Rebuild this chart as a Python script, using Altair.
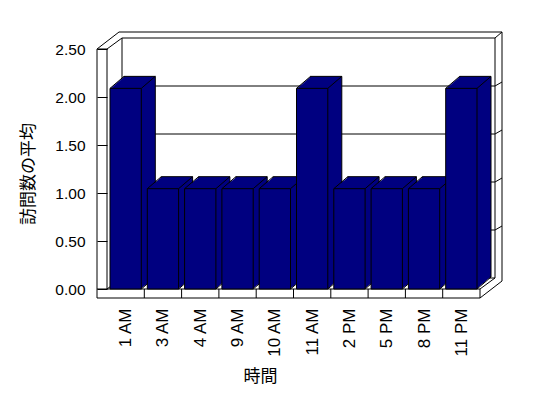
import json

import altair as alt
import pandas as pd

# ---- data -------------------------------------------------------------
hours = ["1 AM", "3 AM", "4 AM", "9 AM", "10 AM", "11 AM", "2 PM", "5 PM", "8 PM", "11 PM"]
avg_visits = [2.09, 1.045, 1.045, 1.045, 1.045, 2.09, 1.045, 1.045, 1.045, 2.09]
y_ticks = [0.0, 0.5, 1.0, 1.5, 2.0, 2.5]

# ---- style ------------------------------------------------------------
NAVY = "#000080"
INK = "#000000"
LABEL_FONT = "Liberation Sans"
CJK_FONT = "Noto Sans CJK JP"

N = len(hours)
Y_MAX = y_ticks[-1]

# pseudo-3D geometry, in pixels
BAR_DX, BAR_DY = 14, -12        # column depth
WALL_DX, WALL_DY = 15, -11      # depth of floor / inner face of back wall
OUTER_DX, OUTER_DY = 22, -17    # depth to the outer face of back wall
WALL_T = 10                     # left wall thickness
FLOOR_T = 9                     # floor thickness
GAP = 3                         # gap at each side of a column
STEPS = 12                      # slices used to fill the column sides

df = pd.DataFrame({"hour": hours, "visits": avg_visits})
df["i"] = range(N)
df["i1"] = df["i"] + 1

grid_df = pd.DataFrame({"g": [v for v in y_ticks if 0 < v < Y_MAX]})
bound_df = pd.DataFrame({"b": list(range(1, N))})
one = pd.DataFrame({"_": [0]})

x_scale = alt.Scale(domain=[0, N], nice=False, zero=False)
y_scale = alt.Scale(domain=[0, Y_MAX], nice=False, zero=False)

label_expr = json.dumps(hours) + "[floor(datum.value)]"

x_axis = alt.Axis(
    values=[i + 0.5 for i in range(N)],
    labelExpr=label_expr,
    labelAngle=270,
    labelAlign="right",
    labelBaseline="middle",
    labelPadding=19,
    labelFlush=False,
    labelOverlap=False,
    labelFont=LABEL_FONT,
    labelFontSize=17,
    labelColor=INK,
    domain=False,
    ticks=False,
    grid=False,
    title="時間",
    titleFont=CJK_FONT,
    titleFontSize=17,
    titleFontWeight="normal",
    titleColor=INK,
    titleX=153,
    titleY=87,
    titleAlign="center",
    titleBaseline="middle",
)

y_axis = alt.Axis(
    values=y_ticks,
    format=".2f",
    labelFont=LABEL_FONT,
    labelFontSize=15.5,
    labelColor=INK,
    labelPadding=12,
    domain=False,
    ticks=True,
    tickSize=10,
    tickColor=INK,
    tickWidth=1,
    grid=False,
    title="訪問数の平均",
    titleFont=CJK_FONT,
    titleFontSize=17,
    titleFontWeight="normal",
    titleColor=INK,
    titleAngle=270,
    titleX=-79,
    titleY=124.5,
    titleAlign="center",
    titleBaseline="middle",
)


# every layer shares the same scale and axis definitions
def X(field):
    return alt.X(f"{field}:Q", scale=x_scale, axis=x_axis)


def Y(field):
    return alt.Y(f"{field}:Q", scale=y_scale, axis=y_axis)


def XD(v):
    return alt.XDatum(v, scale=x_scale, axis=x_axis)


def YD(v):
    return alt.YDatum(v, scale=y_scale, axis=y_axis)


def seg(x1, y1, x2, y2, off1=(0, 0), off2=(0, 0)):
    """A single frame line between two domain points, shifted in pixels."""
    return alt.Chart(one).mark_rule(
        color=INK, strokeWidth=1,
        xOffset=off1[0], yOffset=off1[1], x2Offset=off2[0], y2Offset=off2[1],
    ).encode(x=XD(x1), y=YD(y1), x2=alt.X2Datum(x2), y2=alt.Y2Datum(y2))


layers = []

# ---- box: walls and floor --------------------------------------------
frame = [
    (0, Y_MAX, 0, 0, (-WALL_T, 0), (-WALL_T, FLOOR_T)),
    (0, Y_MAX, 0, 0, (0, 0), (0, 0)),
    (0, Y_MAX, 0, Y_MAX, (-WALL_T, 0), (0, 0)),
    (0, 0, N, 0, (-WALL_T, 0), (0, 0)),
    (0, 0, N, 0, (-WALL_T, FLOOR_T), (0, FLOOR_T)),
    (N, 0, N, 0, (0, 0), (0, FLOOR_T)),
    (0, Y_MAX, 0, Y_MAX, (-WALL_T, 0), (-WALL_T + OUTER_DX, OUTER_DY)),
    (0, Y_MAX, 0, Y_MAX, (0, 0), (WALL_DX, WALL_DY)),
    (0, Y_MAX, N, Y_MAX, (WALL_DX, WALL_DY), (WALL_DX, WALL_DY)),
    (0, Y_MAX, N, Y_MAX, (-WALL_T + OUTER_DX, OUTER_DY), (OUTER_DX, OUTER_DY)),
    (N, Y_MAX, N, 0, (WALL_DX, WALL_DY), (WALL_DX, WALL_DY)),
    (N, Y_MAX, N, 0, (OUTER_DX, OUTER_DY), (OUTER_DX, OUTER_DY + FLOOR_T)),
    (N, Y_MAX, N, Y_MAX, (WALL_DX, WALL_DY), (OUTER_DX, OUTER_DY)),
    (N, 0, N, 0, (0, 0), (WALL_DX, WALL_DY)),
    (N, 0, N, 0, (0, FLOOR_T), (OUTER_DX, OUTER_DY + FLOOR_T)),
    (0, Y_MAX, 0, 0, (WALL_DX, WALL_DY), (WALL_DX, WALL_DY)),
    (0, 0, N, 0, (WALL_DX, WALL_DY), (WALL_DX, WALL_DY)),
    (0, 0, 0, 0, (0, 0), (WALL_DX, WALL_DY)),
]
layers += [seg(*f) for f in frame]

# gridlines on the back wall
layers.append(
    alt.Chart(grid_df).mark_rule(
        color=INK, strokeWidth=1,
        xOffset=WALL_DX, x2Offset=WALL_DX, yOffset=WALL_DY, y2Offset=WALL_DY,
    ).encode(x=XD(0), x2=alt.X2Datum(N), y=Y("g"), y2="g:Q")
)
# gridlines carried over the end of the back wall
layers.append(
    alt.Chart(grid_df).mark_rule(
        color=INK, strokeWidth=1,
        xOffset=WALL_DX, x2Offset=OUTER_DX, yOffset=WALL_DY, y2Offset=WALL_DY - 4,
    ).encode(x=XD(N), x2=alt.X2Datum(N), y=Y("g"), y2="g:Q")
)
# category ticks on the front of the floor
layers.append(
    alt.Chart(bound_df).mark_rule(color=INK, strokeWidth=1, y2Offset=FLOOR_T).encode(
        x=X("b"), x2="b:Q", y=YD(0), y2=alt.Y2Datum(0)
    )
)


# ---- columns ----------------------------------------------------------
def column_slice(k, outlined):
    dx = BAR_DX * k / STEPS
    dy = BAR_DY * k / STEPS
    props = dict(fill=NAVY, xOffset=GAP + dx, x2Offset=-GAP + dx, yOffset=dy, y2Offset=dy)
    if outlined:
        props.update(stroke=INK, strokeWidth=1)
    return alt.Chart(df).mark_rect(**props).encode(
        x=X("i"), x2="i1:Q", y=Y("visits"), y2=alt.Y2Datum(0)
    )


# back face first, then slices towards the front
layers.append(column_slice(STEPS, True))
for k in range(STEPS - 1, 0, -1):
    layers.append(column_slice(k, False))


def column_edge(xfield, xoff, y_enc, y2_enc):
    return alt.Chart(df).mark_rule(
        color=INK, strokeWidth=1,
        xOffset=xoff, x2Offset=xoff + BAR_DX, yOffset=0, y2Offset=BAR_DY,
    ).encode(x=X(xfield), x2=f"{xfield}:Q", y=y_enc, y2=y2_enc)


layers.append(column_edge("i", GAP, Y("visits"), alt.Y2("visits:Q")))
layers.append(column_edge("i1", -GAP, Y("visits"), alt.Y2("visits:Q")))
layers.append(column_edge("i1", -GAP, YD(0), alt.Y2Datum(0)))

# front faces
layers.append(column_slice(0, True))

chart = (
    alt.layer(*layers)
    .properties(
        width=373,
        height=240,
        autosize=alt.AutoSizeParams(type="none"),
        padding={"left": 107, "top": 49, "right": 68, "bottom": 109},
        background="white",
    )
    .configure_view(strokeWidth=0)
)

chart.save("out.html", embed_options={"renderer": "svg", "actions": False})
